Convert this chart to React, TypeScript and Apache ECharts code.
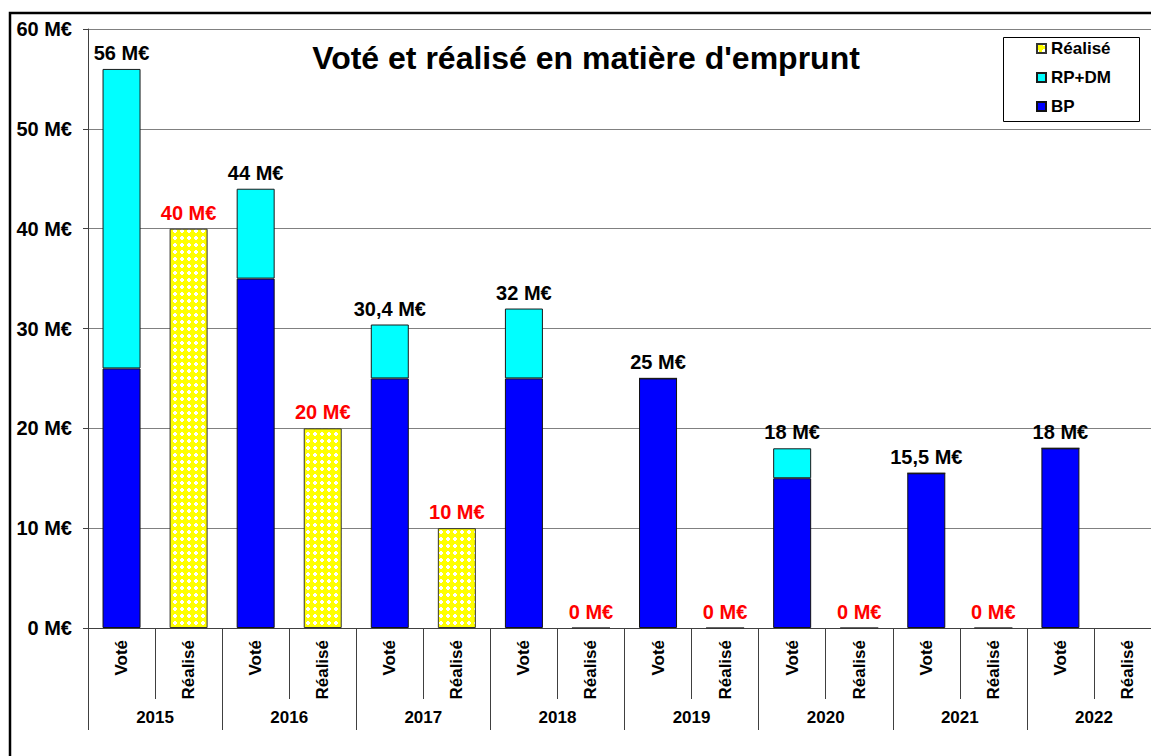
import React, { useEffect, useRef } from "react";
import * as echarts from "echarts";

const years = ["2015", "2016", "2017", "2018", "2019", "2020", "2021", "2022"];
const subLabels = ["Voté", "Réalisé"];
const voteBP = [26, 35, 25, 25, 25, 15, 15.5, 18];
const voteRPDM = [30, 9, 5.4, 7, 0, 3, 0, 0];
const realise: (number | null)[] = [40, 20, 10, 0, 0, 0, 0, null];
const yTicks = [0, 10, 20, 30, 40, 50, 60];

const FONT = "'Liberation Sans', Arial, sans-serif";

function makePattern(): string {
  const n = 7;
  const c = document.createElement("canvas");
  c.width = n;
  c.height = n;
  const ctx = c.getContext("2d")!;
  ctx.fillStyle = "#ffffff";
  ctx.fillRect(0, 0, n, n);
  ctx.fillStyle = "#ffff00";
  for (let y = 0; y < n; y++) {
    for (let x = 0; x < n; x++) {
      const dx = x + 0.5 - n / 2;
      const dy = y + 0.5 - n / 2;
      if (dx * dx + dy * dy <= 12) ctx.fillRect(x, y, 1, 1);
    }
  }
  return c.toDataURL();
}

const fmt = (v: number) => String(v).replace(".", ",") + " M€";

export default function App() {
  const ref = useRef<HTMLDivElement>(null);
  useEffect(() => {
    document.body.style.margin = "0";
    if (!ref.current) return;
    const chart = echarts.init(ref.current, null, { renderer: "svg" });

    const cats: string[] = [];
    const bp: any[] = [];
    const rp: any[] = [];
    const re: any[] = [];
    const totals: number[] = [];
    years.forEach((_, i) => {
      cats.push(subLabels[0], subLabels[1]);
      bp.push(voteBP[i], "-");
      rp.push(voteRPDM[i], "-");
      re.push("-", realise[i] === null ? "-" : realise[i]);
      totals.push(voteBP[i] + voteRPDM[i], 0);
    });

    const pattern = { image: makePattern(), repeat: "repeat" };

    chart.setOption({
      animation: false,
      backgroundColor: "#ffffff",
      title: {
        text: "Voté et réalisé en matière d'emprunt",
        left: 581,
        top: 37,
        textAlign: "center",
        textStyle: { fontFamily: FONT, fontSize: 32, fontWeight: "bold", color: "#000" },
      },
      graphic: [
        {
          type: "rect",
          z: 0,
          shape: { x: 10, y: 13, width: 1400, height: 1000 },
          style: { fill: "none", stroke: "#000", lineWidth: 2.5 },
          silent: true,
        },
        {
          type: "rect",
          z: 10,
          shape: { x: 1003.5, y: 37.5, width: 136, height: 84 },
          style: { fill: "#fff", stroke: "#000", lineWidth: 1 },
          silent: true,
        },
      ],
      legend: {
        z: 20,
        orient: "vertical",
        left: 1031,
        top: 35,
        itemWidth: 9,
        itemHeight: 9,
        itemGap: 12,
        icon: "rect",
        data: ["Réalisé", "RP+DM", "BP"],
        textStyle: { fontFamily: FONT, fontSize: 17, fontWeight: "bold", color: "#000" },
      },
      grid: {
        left: 88,
        width: 1073,
        top: 29,
        height: 599,
        containLabel: false,
        outerBoundsMode: "none",
      },
      xAxis: [
        {
          type: "category",
          data: cats,
          axisLine: { lineStyle: { color: "#404040", width: 1 } },
          axisTick: { show: true, interval: 0, length: 71, lineStyle: { color: "#404040" } },
          axisLabel: {
            interval: 0,
            rotate: 90,
            margin: 12,
            fontFamily: FONT,
            fontSize: 17,
            fontWeight: "bold",
            color: "#000",
          },
        },
        {
          type: "category",
          data: years,
          position: "bottom",
          axisLine: { show: false },
          axisTick: { show: true, interval: 0, length: 102, lineStyle: { color: "#404040" } },
          axisLabel: {
            interval: 0,
            margin: 81,
            fontFamily: FONT,
            fontSize: 17,
            fontWeight: "bold",
            color: "#000",
          },
        },
      ],
      yAxis: {
        type: "value",
        min: yTicks[0],
        max: yTicks[yTicks.length - 1],
        interval: 10,
        axisLine: { show: true, lineStyle: { color: "#404040" } },
        axisTick: { show: true, length: 5, lineStyle: { color: "#404040" } },
        splitLine: { show: true, lineStyle: { color: "#808080", width: 1 } },
        axisLabel: {
          margin: 16,
          formatter: (v: number) => v + " M€",
          fontFamily: FONT,
          fontSize: 20,
          fontWeight: "bold",
          color: "#000",
        },
      },
      series: [
        {
          name: "BP",
          type: "bar",
          stack: "vote",
          data: bp,
          barWidth: 38,
          barGap: "-100%",
          itemStyle: { color: "#0000ff", borderColor: "#111", borderWidth: 1 },
        },
        {
          name: "RP+DM",
          type: "bar",
          stack: "vote",
          data: rp,
          barWidth: 38,
          barGap: "-100%",
          itemStyle: { color: "#00ffff", borderColor: "#1a1a1a", borderWidth: 1 },
          label: {
            show: true,
            position: "top",
            distance: 6,
            formatter: (p: any) => fmt(totals[p.dataIndex]),
            fontFamily: FONT,
            fontSize: 20,
            fontWeight: "bold",
            color: "#000",
          },
        },
        {
          name: "Réalisé",
          type: "bar",
          data: re,
          barWidth: 38,
          barGap: "-100%",
          itemStyle: { color: pattern, borderColor: "#333", borderWidth: 1 },
          label: {
            show: true,
            position: "top",
            distance: 6,
            formatter: (p: any) => fmt(p.value),
            fontFamily: FONT,
            fontSize: 20,
            fontWeight: "bold",
            color: "#ff0000",
          },
        },
      ],
    });
    return () => chart.dispose();
  }, []);
  return <div ref={ref} style={{ width: 1151, height: 756 }} />;
}
